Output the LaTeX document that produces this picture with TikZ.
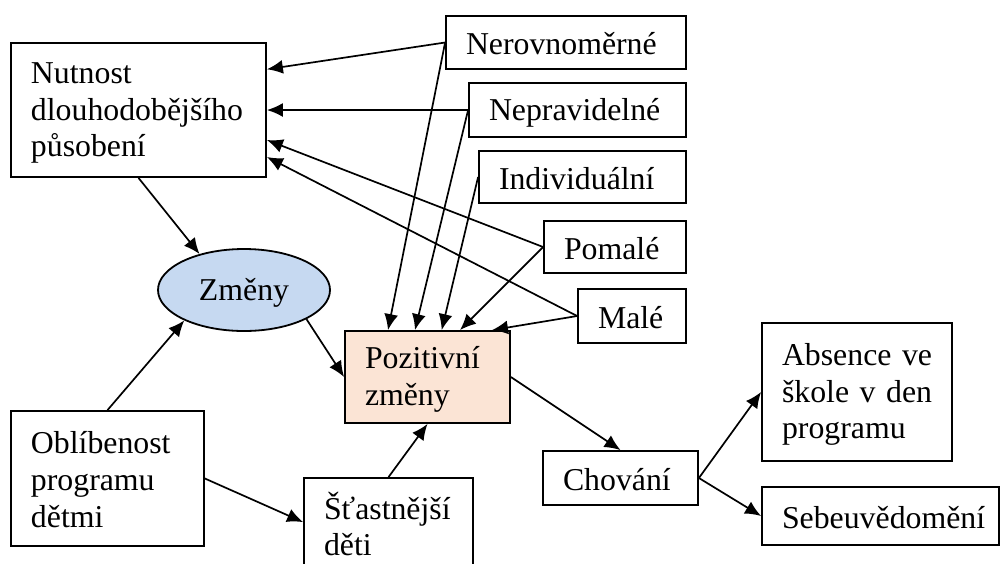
\documentclass[tikz,border=0pt]{standalone}
\usepackage{fontspec}
\setmainfont{Liberation Serif}
\usetikzlibrary{arrows.meta,shapes.geometric}

% fixed line strut: 13.5pt above, 1.5pt below the baseline
\newcommand\bxs{\rule[-1.5pt]{0pt}{15pt}}

\definecolor{zfill}{HTML}{C6D9F1}
\definecolor{pfill}{HTML}{FBE4D5}

\tikzset{
  box/.style={draw, line width=0.9pt, inner xsep=10pt, inner ysep=0pt,
    align=left, font=\fontsize{15.9}{18.3}\selectfont,
    execute at begin node={\hyphenpenalty=10000 }},
  oval/.style={ellipse, draw, line width=0.9pt, inner sep=0pt,
    font=\fontsize{15.9}{18.3}\selectfont},
  link/.style={line width=0.85pt, -{Latex[length=8pt,width=7pt]}},
}

\begin{document}
\begin{tikzpicture}[x=0.5pt,y=-0.5pt]
\useasboundingbox (0,0) rectangle (1000,563);
\clip (0,0) rectangle (1000,563);

% left column
\node[box, text width=107.5pt, minimum height=67pt] (nut) at (138.5,110)
  {\bxs Nutnost\\\bxs dlouhodobějšího\\\bxs působení};
\node[oval, fill=zfill, minimum width=86pt, minimum height=41pt] (zmeny) at (244,290)
  {\bxs Změny};
\node[box, text width=76.5pt, minimum height=67.5pt] (obl) at (107.5,478.5)
  {\bxs Oblíbenost\\\bxs programu\\\bxs dětmi};

% qualities of the change
\node[box, text width=100pt, minimum height=26.5pt] (nerov) at (566,42.5) {\bxs Nerovnoměrné};
\node[box, text width=88.5pt, minimum height=27pt] (neprav) at (577.5,110) {\bxs Nepravidelné};
\node[box, text width=83.5pt, minimum height=26pt] (indiv) at (582.5,177) {\bxs Individuální};
\node[box, text width=51pt, minimum height=26pt] (pomale) at (615,247) {\bxs Pomalé};
\node[box, text width=34pt, minimum height=27pt] (male) at (632,316) {\bxs Malé};

% centre and outcomes
\node[box, fill=pfill, text width=62.5pt, minimum height=46pt] (poz) at (427.5,377)
  {\bxs Pozitivní\\\bxs změny};
\node[box, text width=64.5pt, minimum height=47.3pt] (stast) at (388.5,525.3)
  {\bxs Šťastnější\\\bxs děti};
\node[box, text width=57.5pt, minimum height=27pt] (chov) at (620.5,478) {\bxs Chování};
\node[box, text width=75pt, minimum height=69pt] (abs) at (857,392)
  {\bxs\mbox{Absence ve}\\\bxs\mbox{škole v den}\\\bxs programu};
\node[box, text width=98.5pt, minimum height=29pt] (sebe) at (880.5,516) {\bxs Sebeuvědomění};

% connectors into the long-term box
\draw[link] (nerov.west) -- ([yshift=20.35pt]nut.east);
\draw[link] (neprav.west) -- (nut.east);
\draw[link] (pomale.west) -- ([yshift=-15pt]nut.east);
\draw[link] (male.west) -- ([yshift=-23.5pt]nut.east);

% connectors into the positive changes
\draw[link] (nerov.west) -- ([xshift=-19.75pt]poz.north);
\draw[link] (neprav.west) -- ([xshift=-6.25pt]poz.north);
\draw[link] (indiv.west) -- ([xshift=7.1pt]poz.north);
\draw[link] (pomale.west) -- ([xshift=16.25pt]poz.north);
\draw[link] (male.west) -- ([xshift=32.25pt]poz.north);

% remaining flow
\draw[link] (nut.south) -- (zmeny.141);
\draw[link] (obl.north) -- (zmeny.207);
\draw[link] (zmeny.-25) -- (poz.west);
\draw[link] (obl.east) -- ([yshift=-22.5pt]stast.north west);
\draw[link] (stast.north) -- (poz.south);
\draw[link] (poz.east) -- (chov.north);
\draw[link] (chov.east) -- (abs.west);
\draw[link] (chov.east) -- (sebe.west);
\end{tikzpicture}
\end{document}
